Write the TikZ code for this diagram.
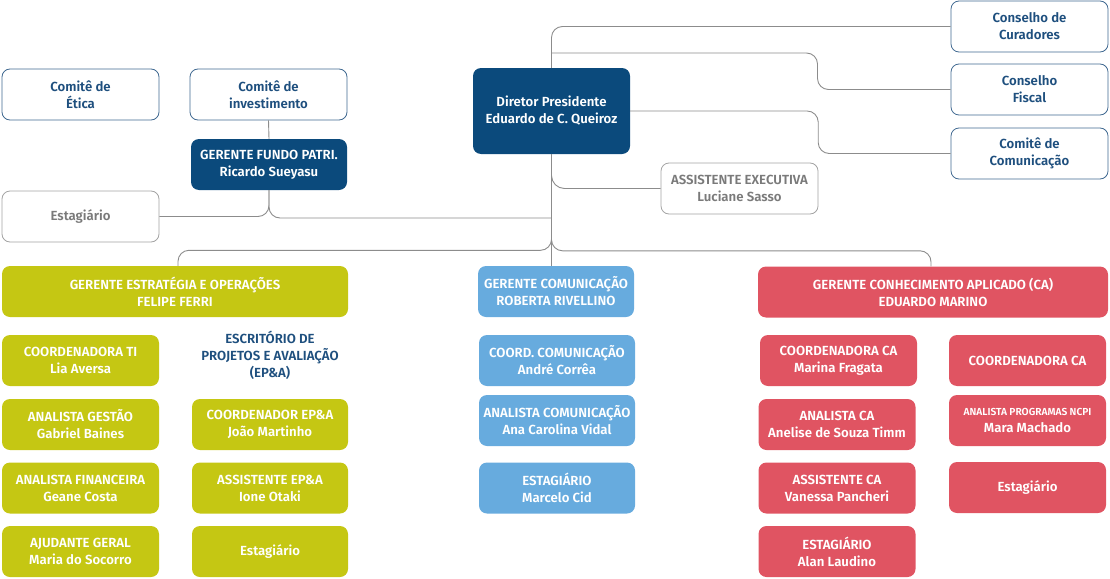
\documentclass[tikz,border=0pt]{standalone}
\usepackage{fontspec}
\setmainfont{Fira Sans SemiBold}
\usetikzlibrary{calc}
\definecolor{navy}{HTML}{0B4A7C}
\definecolor{olive}{HTML}{C5C713}
\definecolor{sky}{HTML}{67ABDE}
\definecolor{coral}{HTML}{E05462}
\definecolor{wire}{HTML}{8C8C8C}
\definecolor{ink}{HTML}{1E4F7E}
\definecolor{greytext}{HTML}{7A7A7A}

\begin{document}
\begin{tikzpicture}[x=1pt,y=-1pt,
  box/.style={rounded corners=8pt,align=center,inner sep=0pt,minimum width=157pt,minimum height=51pt,font=\fontsize{13.2}{17}\selectfont},
  navybox/.style={box,fill=navy,text=white},
  comite/.style={box,draw=ink!85,fill=white,text=ink,line width=0.8pt},
  plainbox/.style={box,draw=wire!80,fill=white,text=greytext,line width=0.8pt},
  olivebox/.style={box,fill=olive,text=white},
  skybox/.style={box,fill=sky,text=white},
  coralbox/.style={box,fill=coral,text=white},
  link/.style={draw=wire,line width=0.9pt,rounded corners=11pt}]
\useasboundingbox (0,0) rectangle (1110,578);
% top part
\node[comite] (etica) at (80.5,94.5) {Comitê de\\Ética};
\node[comite] (invest) at (268.5,94.5) {Comitê de\\investimento};
\node[navybox,minimum width=156pt] (fundo) at (269,164.5) {GERENTE FUNDO PATRI.\\Ricardo Sueyasu};
\node[plainbox] (estagfp) at (80.5,216.5) {Estagiário};
\node[navybox,minimum height=86pt] (diretor) at (551.5,111) {Diretor Presidente\\Eduardo de C. Queiroz};
\node[comite] (curadores) at (1029.5,26.5) {Conselho de\\Curadores};
\node[comite] (fiscal) at (1029.5,89.5) {Conselho\\Fiscal};
\node[comite] (comcom) at (1029.5,153.5) {Comitê de\\Comunicação};
\node[plainbox] (assist) at (739.5,188.5) {ASSISTENTE EXECUTIVA\\Luciane Sasso};
% managers
\node[olivebox,minimum width=346pt] (geo) at (175,291.5) {GERENTE ESTRATÉGIA E OPERAÇÕES\\FELIPE FERRI};
\node[skybox,minimum width=156pt] (gcom) at (556,291.5) {GERENTE COMUNICAÇÃO\\ROBERTA RIVELLINO};
\node[coralbox,minimum width=350pt] (gca) at (933,292) {GERENTE CONHECIMENTO APLICADO (CA)\\EDUARDO MARINO};
% estrategia e operacoes
\node[olivebox] (coordti) at (80.5,360.5) {COORDENADORA TI\\Lia Aversa};
\node[olivebox] (gestao) at (80.5,424.5) {ANALISTA GESTÃO\\Gabriel Baines};
\node[olivebox] (financ) at (80.5,488) {ANALISTA FINANCEIRA\\Geane Costa};
\node[olivebox] (ajudante) at (80.5,551.5) {AJUDANTE GERAL\\Maria do Socorro};
\node[align=center,text=ink,inner sep=0pt,font=\fontsize{13.2}{17}\selectfont] (epa) at (270,355.5) {ESCRITÓRIO DE\\PROJETOS E AVALIAÇÃO\\(EP\&A)};
\node[olivebox,minimum width=156pt] (coordepa) at (270,424.5) {COORDENADOR EP\&A\\João Martinho};
\node[olivebox,minimum width=156pt] (assistepa) at (270,488) {ASSISTENTE EP\&A\\Ione Otaki};
\node[olivebox,minimum width=156pt] (estagepa) at (270,551.5) {Estagiário};
% comunicacao
\node[skybox,minimum width=156pt] (coordcom) at (557,360.5) {COORD. COMUNICAÇÃO\\André Corrêa};
\node[skybox,minimum width=156pt] (analcom) at (557,420.5) {ANALISTA COMUNICAÇÃO\\Ana Carolina Vidal};
\node[skybox,minimum width=156pt] (estagcom) at (557,488) {ESTAGIÁRIO\\Marcelo Cid};
% conhecimento aplicado
\node[coralbox] (coordca) at (838.5,360.5) {COORDENADORA CA\\Marina Fragata};
\node[coralbox] (analca) at (837,424.5) {ANALISTA CA\\Anelise de Souza Timm};
\node[coralbox] (assistca) at (837,488) {ASSISTENTE CA\\Vanessa Pancheri};
\node[coralbox] (estagca) at (837,551.5) {ESTAGIÁRIO\\Alan Laudino};
\node[coralbox] (coordcb) at (1027.5,360.5) {COORDENADORA CA};
\node[coralbox] (ncpi) at (1027.5,420.5) {{\fontsize{10.2}{12}\selectfont ANALISTA PROGRAMAS NCPI}\\Mara Machado};
\node[coralbox] (estagcb) at (1027.5,487.5) {Estagiário};
% connectors
\coordinate (hubfis) at (551.5,53);
\coordinate (hubfp) at (551.5,218);
\coordinate (hubsplit) at (551.5,230);
\draw[link] (invest.south) -- (fundo.north);
\draw[link] (fundo.south) |- (estagfp.east);
\draw[link] (fundo.south) |- (hubfp);
\draw[link] (diretor.north) |- (curadores.west);
\draw[link] (hubfis) -- ++(266,0) |- (fiscal.west);
\draw[link] (diretor.east) -- ++(188,0) |- (comcom.west);
\draw[link,rounded corners=13pt] (diretor.south) |- (assist.west);
\draw[link] (diretor.south) -- (diretor.south |- gcom.north);
\draw[link] (hubsplit) |- ($(geo.north)+(3,-15.5)$) -- ($(geo.north)+(3,0)$);
\draw[link] (hubsplit) |- ($(gca.north)+(-2,-15.5)$) -- ($(gca.north)+(-2,0)$);
\end{tikzpicture}
\end{document}
